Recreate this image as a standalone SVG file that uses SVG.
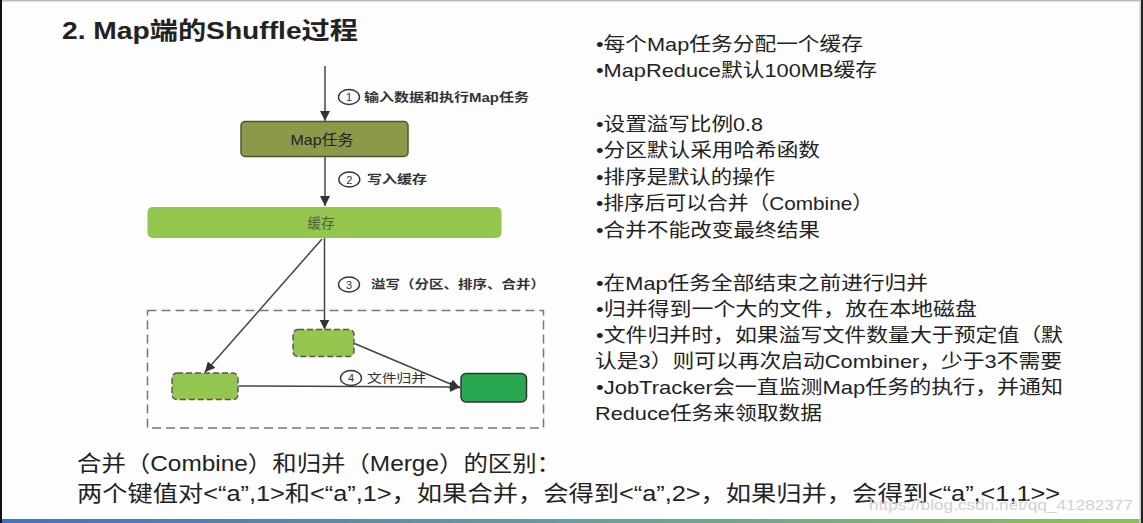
<svg xmlns="http://www.w3.org/2000/svg" width="1143" height="523" viewBox="0 0 1143 523">
<defs>
<style>
.t{font-family:"Liberation Sans","Noto Sans CJK SC",sans-serif;fill:#222}
.side{font-size:19px}
.lbl{font-size:12px;font-weight:bold;fill:#333}
.lbln{font-size:12.5px;fill:#333}
.num{font-size:11px;fill:#333;text-anchor:middle}
.ell{fill:#fff;stroke:#333;stroke-width:1.4}
.conn{stroke:#444;stroke-width:1.5;fill:none}
.lite{fill:#93c54f;stroke:#555;stroke-width:1.4;stroke-dasharray:6 3}
</style>
<marker id="ah" viewBox="0 0 10 10" refX="10" refY="5" markerWidth="10" markerHeight="10" markerUnits="userSpaceOnUse" orient="auto">
<path d="M0,0 L10,5 L0,10 z" fill="#333"/>
</marker>
<linearGradient id="bar" x1="0" y1="0" x2="1" y2="0">
<stop offset="0" stop-color="#3f75bd"/>
<stop offset="0.5" stop-color="#5fa0a0"/>
<stop offset="1" stop-color="#8cc152"/>
</linearGradient>
</defs>
<rect x="0" y="0" width="1143" height="523" fill="#fdfdfd"/>
<rect x="0" y="0" width="1143" height="1.5" fill="#bbb"/>
<rect x="0" y="0" width="2" height="523" fill="#111"/>
<rect x="1139.5" y="0" width="1.5" height="523" fill="#ccc"/>
<rect x="1141" y="0" width="2" height="523" fill="#222"/>
<rect x="2" y="519" width="1137.5" height="4" fill="url(#bar)"/>

<text class="t" x="62" y="39" font-size="24" font-weight="bold" textLength="296" lengthAdjust="spacingAndGlyphs">2. Map端的Shuffle过程</text>

<g id="connectors">
<line class="conn" x1="325" y1="66" x2="325" y2="121" marker-end="url(#ah)"/>
<line class="conn" x1="325" y1="157" x2="325" y2="206" marker-end="url(#ah)"/>
<line class="conn" x1="324.5" y1="238" x2="324.5" y2="329.5" marker-end="url(#ah)"/>
<line class="conn" x1="322" y1="239" x2="205" y2="372" marker-end="url(#ah)"/>
<line class="conn" x1="354.5" y1="343.5" x2="460" y2="388" marker-end="url(#ah)"/>
<line class="conn" x1="238.5" y1="386" x2="460" y2="387" marker-end="url(#ah)"/>
</g>

<g id="step1">
<ellipse class="ell" cx="349" cy="97" rx="10.5" ry="7.5"/>
<text class="t num" x="349" y="101">1</text>
<text class="t lbl" x="364" y="101.5" textLength="165" lengthAdjust="spacingAndGlyphs">输入数据和执行Map任务</text>
</g>
<g id="step2">
<ellipse class="ell" cx="349.3" cy="179.5" rx="10.5" ry="7.5"/>
<text class="t num" x="349.3" y="183.5">2</text>
<text class="t lbl" x="367" y="184" textLength="60" lengthAdjust="spacingAndGlyphs">写入缓存</text>
</g>
<g id="step3">
<ellipse class="ell" cx="349" cy="284.5" rx="10.5" ry="7.5"/>
<text class="t num" x="349" y="288.5">3</text>
<text class="t lbl" x="371" y="289" textLength="174" lengthAdjust="spacingAndGlyphs">溢写（分区、排序、合并）</text>
</g>
<g id="step4">
<ellipse class="ell" cx="351" cy="378" rx="10.5" ry="7.5"/>
<text class="t num" x="351" y="382">4</text>
<text class="t lbln" x="367" y="383" textLength="59" lengthAdjust="spacingAndGlyphs">文件归并</text>
</g>

<g id="map-task">
<rect x="241" y="121.5" width="167" height="35" rx="4" fill="#8b9a4a" stroke="#4d5630" stroke-width="1.5"/>
<text class="t" x="322" y="144.5" font-size="14.5" text-anchor="middle" fill="#333" textLength="63" lengthAdjust="spacingAndGlyphs">Map任务</text>
</g>

<g id="buffer">
<rect x="147.5" y="207" width="354" height="31" rx="5" fill="#93c54f"/>
<text class="t" x="321" y="228" font-size="14" text-anchor="middle" style="fill:#4f5e35" textLength="27" lengthAdjust="spacingAndGlyphs">缓存</text>
</g>

<g id="spill-area">
<rect x="147.5" y="310.5" width="396" height="117.5" fill="none" stroke="#777" stroke-width="1.5" stroke-dasharray="9 5"/>
</g>
<g id="spill-file-1">
<rect class="lite" x="293" y="329.5" width="61" height="27" rx="5"/>
</g>
<g id="spill-file-2">
<rect class="lite" x="172" y="373" width="66" height="26.5" rx="5"/>
</g>
<g id="merged-file">
<rect x="461" y="373.5" width="65.5" height="28.5" rx="5" fill="#2aa84f" stroke="#333" stroke-width="1.5"/>
</g>

<g id="notes">
<text class="t side" x="596" y="51" textLength="267" lengthAdjust="spacingAndGlyphs">•每个Map任务分配一个缓存</text>
<text class="t side" x="596" y="77" textLength="281" lengthAdjust="spacingAndGlyphs">•MapReduce默认100MB缓存</text>
<text class="t side" x="596" y="131" textLength="167" lengthAdjust="spacingAndGlyphs">•设置溢写比例0.8</text>
<text class="t side" x="596" y="157" textLength="224" lengthAdjust="spacingAndGlyphs">•分区默认采用哈希函数</text>
<text class="t side" x="596" y="184" textLength="179" lengthAdjust="spacingAndGlyphs">•排序是默认的操作</text>
<text class="t side" x="596" y="210" textLength="277" lengthAdjust="spacingAndGlyphs">•排序后可以合并（Combine）</text>
<text class="t side" x="596" y="237" textLength="224" lengthAdjust="spacingAndGlyphs">•合并不能改变最终结果</text>
<text class="t side" x="596" y="290" textLength="332" lengthAdjust="spacingAndGlyphs">•在Map任务全部结束之前进行归并</text>
<text class="t side" x="596" y="316" textLength="381" lengthAdjust="spacingAndGlyphs">•归并得到一个大的文件，放在本地磁盘</text>
<text class="t side" x="596" y="342" textLength="467" lengthAdjust="spacingAndGlyphs">•文件归并时，如果溢写文件数量大于预定值（默</text>
<text class="t side" x="595" y="368" textLength="467" lengthAdjust="spacingAndGlyphs">认是3）则可以再次启动Combiner，少于3不需要</text>
<text class="t side" x="596" y="394" textLength="467" lengthAdjust="spacingAndGlyphs">•JobTracker会一直监测Map任务的执行，并通知</text>
<text class="t side" x="595" y="420" textLength="227" lengthAdjust="spacingAndGlyphs">Reduce任务来领取数据</text>
</g>

<g id="bottom-notes">
<text class="t" x="77" y="471" font-size="22" textLength="484" lengthAdjust="spacingAndGlyphs">合并（Combine）和归并（Merge）的区别：</text>
<text class="t" x="77" y="501" font-size="22" textLength="983" lengthAdjust="spacingAndGlyphs">两个键值对&lt;“a”,1&gt;和&lt;“a”,1&gt;，如果合并，会得到&lt;“a”,2&gt;，如果归并，会得到&lt;“a”,&lt;1,1&gt;&gt;</text>
<text class="t" x="869" y="510" font-size="15" style="fill:#d2d2d2" textLength="264" lengthAdjust="spacingAndGlyphs">https://blog.csdn.net/qq_41282377</text>
</g>
</svg>
